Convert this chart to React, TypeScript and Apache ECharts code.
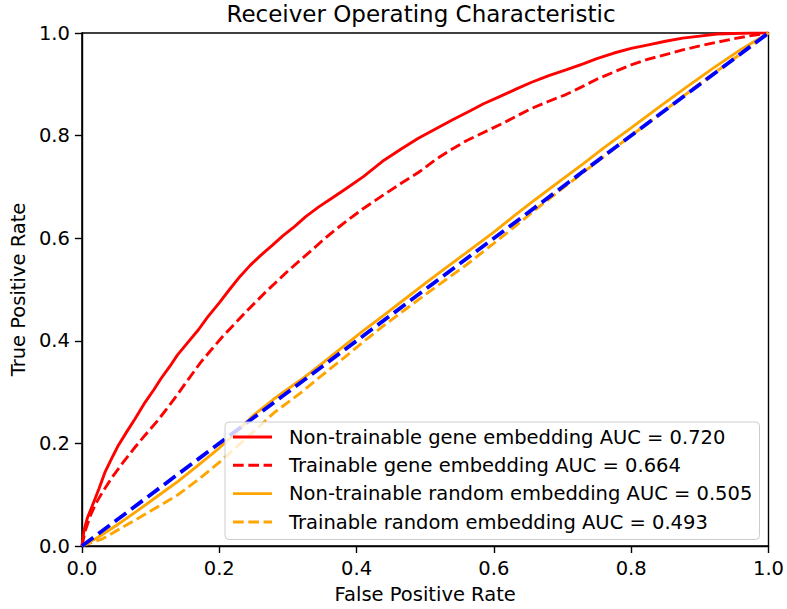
import React, { useEffect, useRef } from "react";
import * as echarts from "echarts";

// ---- Data ----
const seriesNames = [
  "Non-trainable gene embedding AUC = 0.720",
  "Trainable gene embedding AUC = 0.664",
  "Non-trainable random embedding AUC = 0.505",
  "Trainable random embedding AUC = 0.493",
];

const geneFixedFpr = [0, 0.003, 0.008, 0.015, 0.025, 0.034, 0.045, 0.053, 0.065, 0.077, 0.092, 0.105, 0.115, 0.128, 0.139, 0.155, 0.17, 0.183, 0.2, 0.215, 0.23, 0.245, 0.26, 0.278, 0.293, 0.31, 0.326, 0.345, 0.365, 0.385, 0.41, 0.44, 0.465, 0.49, 0.515, 0.54, 0.565, 0.585, 0.61, 0.633, 0.655, 0.68, 0.705, 0.73, 0.75, 0.775, 0.8, 0.825, 0.85, 0.875, 0.9, 0.925, 0.95, 0.975, 1.0];
const geneFixedTpr = [0, 0.03, 0.055, 0.078, 0.112, 0.145, 0.175, 0.196, 0.222, 0.247, 0.28, 0.305, 0.326, 0.35, 0.372, 0.398, 0.422, 0.446, 0.474, 0.5, 0.525, 0.547, 0.566, 0.587, 0.605, 0.623, 0.642, 0.661, 0.679, 0.697, 0.72, 0.752, 0.774, 0.795, 0.813, 0.831, 0.848, 0.862, 0.877, 0.891, 0.904, 0.917, 0.928, 0.94, 0.95, 0.961, 0.97, 0.977, 0.984, 0.99, 0.994, 0.998, 0.999, 1.0, 1.0];

const geneTrainFpr = [0, 0.005, 0.012, 0.02, 0.03, 0.044, 0.06, 0.077, 0.092, 0.11, 0.125, 0.139, 0.155, 0.173, 0.19, 0.206, 0.221, 0.24, 0.255, 0.269, 0.285, 0.3, 0.317, 0.335, 0.35, 0.365, 0.385, 0.41, 0.44, 0.465, 0.49, 0.515, 0.537, 0.56, 0.585, 0.61, 0.633, 0.655, 0.68, 0.705, 0.728, 0.75, 0.775, 0.8, 0.825, 0.85, 0.875, 0.9, 0.925, 0.95, 0.975, 1.0];
const geneTrainTpr = [0, 0.03, 0.058, 0.082, 0.105, 0.134, 0.163, 0.192, 0.216, 0.244, 0.27, 0.295, 0.325, 0.358, 0.385, 0.41, 0.431, 0.458, 0.478, 0.497, 0.517, 0.536, 0.556, 0.577, 0.595, 0.612, 0.633, 0.658, 0.685, 0.707, 0.728, 0.753, 0.772, 0.79, 0.806, 0.822, 0.838, 0.853, 0.867, 0.88, 0.895, 0.91, 0.924, 0.938, 0.949, 0.958, 0.967, 0.975, 0.982, 0.989, 0.995, 1.0];

const randFixedFpr = [0, 0.02, 0.05, 0.08, 0.11, 0.14, 0.17, 0.2, 0.225, 0.25, 0.28, 0.32, 0.35, 0.38, 0.41, 0.44, 0.47, 0.5, 0.53, 0.56, 0.6, 0.63, 0.66, 0.7, 0.73, 0.76, 0.8, 0.84, 0.88, 0.92, 0.96, 1.0];
const randFixedTpr = [0, 0.014, 0.04, 0.068, 0.097, 0.126, 0.158, 0.191, 0.222, 0.255, 0.287, 0.325, 0.356, 0.388, 0.42, 0.45, 0.481, 0.512, 0.542, 0.572, 0.612, 0.644, 0.675, 0.715, 0.745, 0.776, 0.815, 0.855, 0.894, 0.932, 0.968, 1.0];

const randTrainFpr = [0, 0.03, 0.06, 0.1, 0.14, 0.17, 0.2, 0.225, 0.25, 0.28, 0.32, 0.35, 0.38, 0.41, 0.44, 0.47, 0.5, 0.53, 0.56, 0.6, 0.63, 0.66, 0.7, 0.73, 0.76, 0.8, 0.84, 0.88, 0.92, 0.96, 1.0];
const randTrainTpr = [0, 0.014, 0.037, 0.068, 0.1, 0.13, 0.163, 0.193, 0.223, 0.26, 0.3, 0.333, 0.365, 0.398, 0.43, 0.46, 0.49, 0.519, 0.548, 0.59, 0.622, 0.655, 0.697, 0.728, 0.759, 0.8, 0.84, 0.881, 0.921, 0.96, 1.0];

const chanceFpr = [0, 1];
const chanceTpr = [0, 1];

const axisTicks = [0, 0.2, 0.4, 0.6, 0.8, 1.0];

const zip = (xs: number[], ys: number[]) => xs.map((x, i) => [x, ys[i]]);

const FONT = "DejaVu Sans";
const FS = 19.5;
const RED = "#ff0000";
const ORANGE = "#ffa500";
const BLUE = "#0000ff";
const LW = 2.9;
const DASH = [10.7, 4.6];

const styles = [
  { color: RED, dash: null as number[] | null },
  { color: RED, dash: DASH },
  { color: ORANGE, dash: null as number[] | null },
  { color: ORANGE, dash: DASH },
];

export default function App() {
  const ref = useRef<HTMLDivElement>(null);
  useEffect(() => {
    if (!ref.current) return;
    const chart = echarts.init(ref.current, null, { renderer: "svg" });

    const curveData = [
      zip(geneFixedFpr, geneFixedTpr),
      zip(geneTrainFpr, geneTrainTpr),
      zip(randFixedFpr, randFixedTpr),
      zip(randTrainFpr, randTrainTpr),
    ];

    const series: any[] = curveData.map((d, i) => ({
      name: seriesNames[i],
      type: "line",
      data: d,
      symbol: "none",
      smooth: false,
      lineStyle: {
        color: styles[i].color,
        width: LW,
        type: styles[i].dash ? styles[i].dash : "solid",
      },
      z: 2 + i,
    }));
    series.push({
      name: "chance",
      type: "line",
      data: zip(chanceFpr, chanceTpr),
      symbol: "none",
      lineStyle: { color: BLUE, width: 3.8, type: [14.3, 6.2] },
      z: 10,
    });

    // legend drawn as graphic (box, handles, labels)
    const lgLeft = 225;
    const lgTop = 422;
    const lgRight = 759.5;
    const lgBottom = 539.5;
    const rowY = [437, 465.3, 493.6, 522];
    const legendEls: any[] = [
      {
        type: "rect",
        shape: { x: lgLeft, y: lgTop, width: lgRight - lgLeft, height: lgBottom - lgTop, r: 4 },
        style: { fill: "rgba(255,255,255,0.8)", stroke: "#cccccc", lineWidth: 1 },
        z: 100,
      },
    ];
    seriesNames.forEach((name, i) => {
      legendEls.push({
        type: "line",
        shape: { x1: 233, y1: rowY[i], x2: 272, y2: rowY[i] },
        style: {
          stroke: styles[i].color,
          lineWidth: LW,
          lineDash: styles[i].dash || undefined,
        },
        z: 101,
      });
      legendEls.push({
        type: "text",
        x: 289,
        y: rowY[i],
        style: {
          text: name,
          font: `${FS}px "${FONT}"`,
          fill: "#000",
          textAlign: "left",
          textVerticalAlign: "middle",
        },
        z: 101,
      });
    });

    const axisCommon = {
      type: "value",
      min: 0,
      max: 1,
      interval: 0.2,
      axisLine: { show: true, lineStyle: { color: "#000", width: 1.4 } },
      axisTick: { show: true, inside: false, length: 7, lineStyle: { color: "#000", width: 1.4 } },
      splitLine: { show: false },
      axisLabel: {
        color: "#000",
        fontFamily: FONT,
        fontSize: FS,
        margin: 12,
        formatter: (v: number) => (axisTicks.includes(Math.round(v * 10) / 10) ? v.toFixed(1) : ""),
      },
      nameLocation: "middle",
      nameTextStyle: { color: "#000", fontFamily: FONT, fontSize: FS },
    };

    chart.setOption({
      animation: false,
      backgroundColor: "#ffffff",
      grid: {
        left: 73,
        right: 18,
        top: 33,
        bottom: 60,
        show: true,
        borderColor: "#000",
        borderWidth: 1.4,
        backgroundColor: "transparent",
      },
      xAxis: { ...axisCommon, name: "False Positive Rate", nameGap: 38 },
      yAxis: { ...axisCommon, name: "True Positive Rate", nameGap: 50, nameRotate: 90 },
      series,
      graphic: [
        {
          type: "text",
          x: 421,
          y: 14,
          style: {
            text: "Receiver Operating Characteristic",
            font: `23px "${FONT}"`,
            fill: "#000",
            textAlign: "center",
            textVerticalAlign: "middle",
          },
        },
        ...legendEls,
      ],
    });
    return () => chart.dispose();
  }, []);

  return (
    <div
      ref={ref}
      style={{ position: "fixed", left: 0, top: 0, width: 787, height: 609, background: "#fff" }}
    />
  );
}
